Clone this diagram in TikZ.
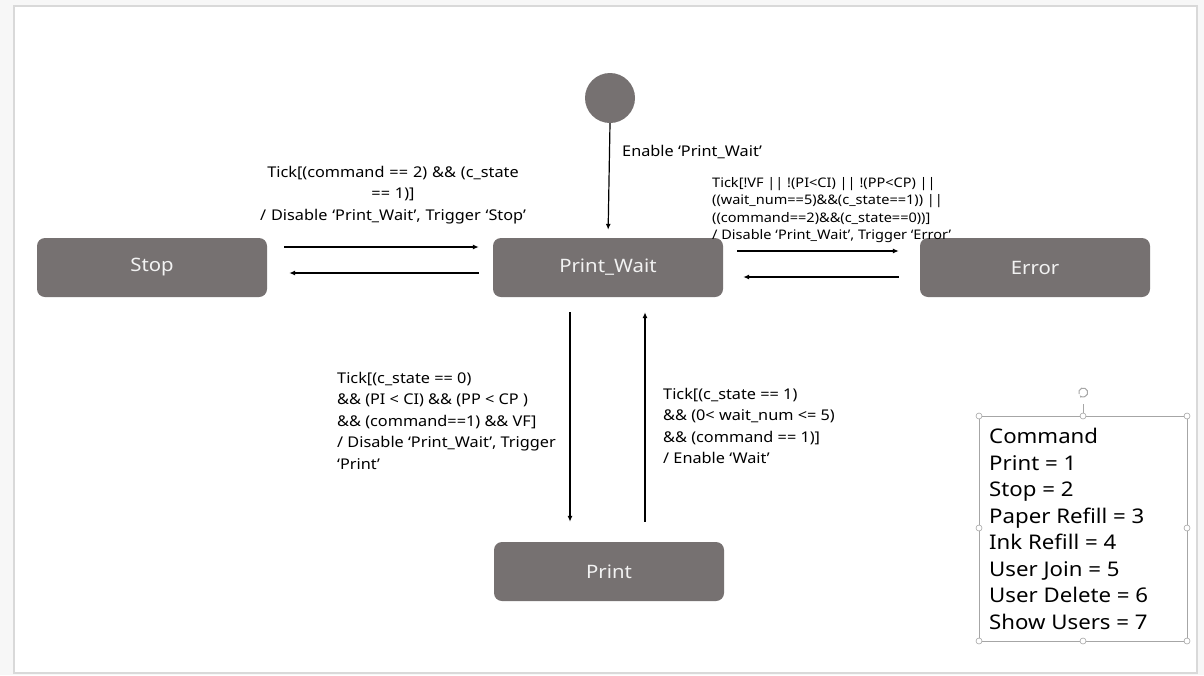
\documentclass[tikz,border=0pt]{standalone}
\usepackage{fontspec}
\setmainfont{Noto Sans}[FakeStretch=1.1]
\usetikzlibrary{arrows.meta}
\definecolor{stategray}{HTML}{767171}
\definecolor{framegray}{HTML}{D9D9D9}
\definecolor{handlegray}{HTML}{A6A6A6}
\tikzset{
  statebox/.style={rounded corners=8pt, fill=stategray, minimum width=230pt, minimum height=59pt, inner sep=0pt, text=white!95!black, font=\fontsize{18.5}{22}\selectfont},
  initdot/.style={circle, fill=stategray, minimum size=50pt, inner sep=0pt},
  trans/.style={line width=1.2pt, -{Latex[length=6pt,width=5pt]}},
  lbl/.style={font=\fontsize{14.8}{21.5}\selectfont, inner sep=0pt},
  lblsmall/.style={font=\fontsize{13.2}{17.4}\selectfont, inner sep=0pt, align=left},
  handle/.style={circle, draw=handlegray, fill=white, line width=0.6pt, minimum size=6pt, inner sep=0pt},
}
\begin{document}
\begin{tikzpicture}[x=1pt,y=-1pt]
\useasboundingbox (0,0) rectangle (1204,675);
\fill[white!97!black] (0,0) rectangle (1204,675);
\draw[framegray, fill=white, line width=1.2pt] (14,6) rectangle (1197,673);

\node[initdot] (init) at (610,98) {};
\node[statebox] (stop) at (152,267.5) {Stop};
\node[statebox] (pw) at (608,267.5) {Print\_Wait};
\node[statebox] (err) at (1035,267.5) {Error};
\node[statebox] (print) at (609,571.5) {Print};

% initial
\draw[trans, shorten >=8pt] (init.south) -- (pw.north);
\node[lbl, anchor=west] (enl) at (622,152) {Enable ‘Print\_Wait’};

% Stop <-> Print_Wait
\draw[trans] ([xshift=17pt,yshift=20.5pt]stop.east) -- ([xshift=-14pt,yshift=20.5pt]pw.west);
\draw[trans] ([xshift=-14pt,yshift=-5.5pt]pw.west) -- ([xshift=22pt,yshift=-5.5pt]stop.east);
\node[lbl, align=center, text width=300pt] (stl) at (393,195) {Tick[(command == 2) \&\& (c\_state\\== 1)]\\/ Disable ‘Print\_Wait’, Trigger ‘Stop’};

% Print_Wait <-> Error
\draw[trans] ([xshift=14pt,yshift=16.5pt]pw.east) -- ([xshift=-21pt,yshift=16.5pt]err.west);
\draw[trans] ([xshift=-21pt,yshift=-9.5pt]err.west) -- ([xshift=20pt,yshift=-9.5pt]pw.east);
\node[lblsmall, anchor=north west] (erl) at (712,177) {Tick[!VF || !(PI<CI) || !(PP<CP) ||\\((wait\_num==5)\&\&(c\_state==1)) ||\\((command==2)\&\&(c\_state==0))]\\/ Disable ‘Print\_Wait’, Trigger ‘Error’};

% Print_Wait <-> Print
\draw[trans] ([xshift=-38pt,yshift=-15pt]pw.south) -- ([xshift=-39pt,yshift=20pt]print.north);
\draw[trans] ([xshift=36pt,yshift=20pt]print.north) -- ([xshift=37pt,yshift=-15pt]pw.south);
\node[lbl, anchor=north west, align=left] (prl) at (337,372) {Tick[(c\_state == 0)\\\&\& (PI < CI) \&\& (PP < CP )\\\&\& (command==1) \&\& VF]\\/ Disable ‘Print\_Wait’, Trigger\\‘Print’};
\node[lbl, anchor=north west, align=left] (upl) at (663,388) {Tick[(c\_state == 1)\\\&\& (0< wait\_num <= 5)\\\&\& (command == 1)]\\/ Enable ‘Wait’};

% Command legend
\draw[handlegray, line width=0.8pt] (979,416) rectangle (1187,641);
\node[anchor=north west, align=left, inner sep=0pt, font=\fontsize{20.2}{26.5}\selectfont] (cmd) at (989,428) {Command\\Print = 1\\Stop = 2\\Paper Refill = 3\\Ink Refill = 4\\User Join = 5\\User Delete = 6\\Show Users = 7};
\draw[handlegray, line width=0.8pt] (1083,404) -- (1083,416);
\draw[handlegray, line width=1pt, -{Stealth[length=2.5pt]}] (1079,394) arc (200:-140:4.5pt);
\foreach \p in {(979,416),(1187,416),(979,641),(1187,641),(1083,416),(1083,641),(979,528),(1187,528)}
  \node[handle] at \p {};
\end{tikzpicture}
\end{document}
